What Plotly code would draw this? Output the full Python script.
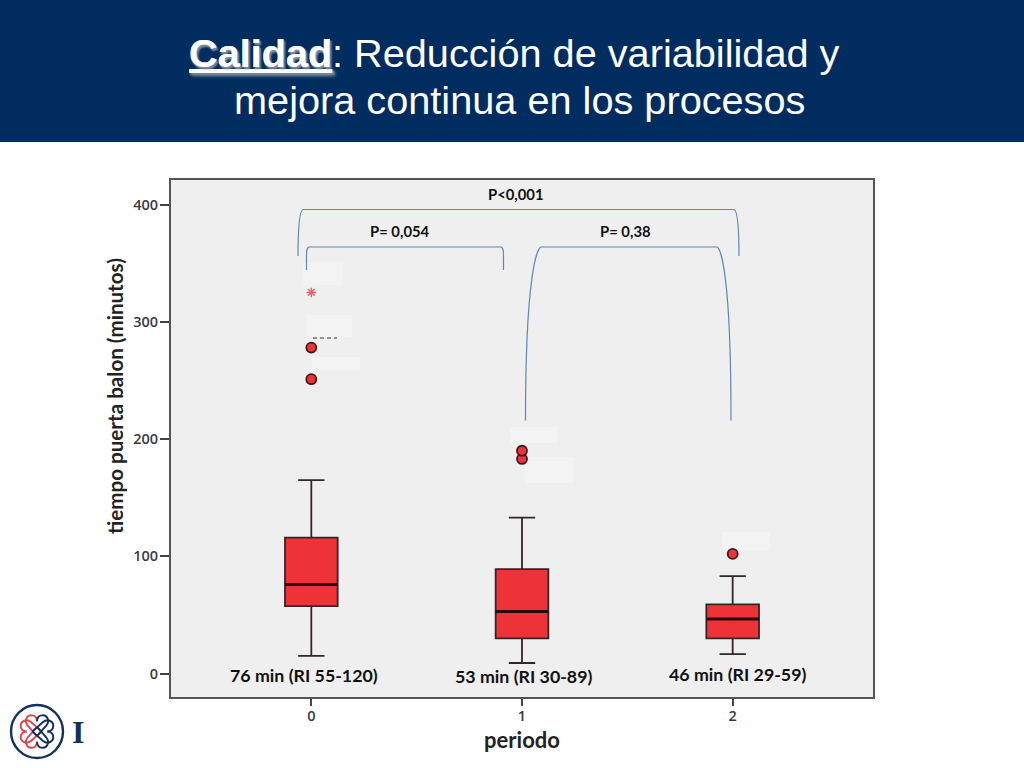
import math
import plotly.graph_objects as go

# Datos del boxplot
periodos = [0, 1, 2]
q1 = [57.5, 30, 30]
medianas = [76, 53, 46.5]
q3 = [116, 89, 59]
bigote_inf = [15, 9, 16.5]
bigote_sup = [165, 133, 83]

atipicos_x = [0, 0, 1, 1, 2]
atipicos_y = [251, 278, 183, 190, 102]
extremos_x = [0]
extremos_y = [325]

ticks_y = [0, 100, 200, 300, 400]
etiquetas_caja = ["76 min (RI 55-120)", "53 min (RI 30-89)", "46 min (RI 29-59)"]
etiquetas_p = ["P<0,001", "P= 0,054", "P= 0,38"]

W, H = 1024, 768
AZUL = "#002C5F"
ROJO = "#EE3338"
LINEA = "#5F86B5"
MARINO = "#12305C"
ROJO_LOGO = "#E2464C"


def px(x):
    return x / W


def py(y):
    return 1 - y / H


def punto(x, y):
    return f"{px(x):.5f},{py(y):.5f}"


def llave(x0, xc0, xc1, x1, ytop, ybot, curva):
    # corchete curvo de comparacion
    h = ybot - ytop
    return (
        f"M{punto(x0, ybot)} C{punto(x0, ytop + h * curva)} {punto(xc0 - 3, ytop + 1)} {punto(xc0, ytop)} "
        f"L{punto(xc1, ytop)} C{punto(xc1 + 3, ytop + 1)} {punto(x1, ytop + h * curva)} {punto(x1, ybot)}"
    )


def medio_corazon(cx, cy, ang, s, lado):
    # mitad de corazon, con la punta pasando el centro del logo
    pts = [(0, 4), (-3, 0.6), (-5, -1.6), (-8, -5), (-12, -10), (-8, -15), (-4, -14), (-2, -14), (0, -12), (0, -9)]
    a = math.radians(ang)
    p = []
    for x, y in pts:
        x = x * lado
        p.append((cx + s * (x * math.cos(a) - y * math.sin(a)),
                  cy + s * (x * math.sin(a) + y * math.cos(a))))
    d = f"M{punto(*p[0])}"
    for i in range(1, len(p) - 1, 3):
        d += f" C{punto(*p[i])} {punto(*p[i + 1])} {punto(*p[i + 2])}"
    return d


def trazo_logo(ang, lado, color):
    return dict(type="path", xref="paper", yref="paper", path=medio_corazon(37, 731.5, ang, 1.15, lado),
                line=dict(color=color, width=1.9))


fig = go.Figure()

fig.add_trace(go.Box(
    x=periodos, q1=q1, median=medianas, q3=q3,
    lowerfence=bigote_inf, upperfence=bigote_sup,
    width=0.25, whiskerwidth=0.5, boxpoints=False,
    fillcolor=ROJO, line=dict(color="#33262A", width=1.8),
))
# mediana mas gruesa
fig.add_trace(go.Scatter(
    x=periodos, y=medianas, mode="markers",
    marker=dict(size=1, color="#2A0A0A"),
    error_x=dict(type="constant", value=0.125, width=0, thickness=3, color="#2A0A0A"),
))
fig.add_trace(go.Scatter(
    x=atipicos_x, y=atipicos_y, mode="markers",
    marker=dict(symbol="circle", size=10, color=ROJO, line=dict(color="#3A1A1E", width=1.8)),
))
fig.add_trace(go.Scatter(
    x=extremos_x, y=extremos_y, mode="markers",
    marker=dict(symbol="asterisk-open", size=8, color="#E8616B", line=dict(color="#E8616B", width=1.4)),
))

formas = [
    dict(type="rect", xref="paper", yref="paper", x0=0, x1=1, y0=py(142), y1=1,
         fillcolor=AZUL, line_width=0, layer="below"),
    # parches claros que tapan las etiquetas originales
    *[dict(type="rect", xref="paper", yref="paper", x0=px(a), x1=px(b), y0=py(d), y1=py(c),
           fillcolor="#F3F3F3", line_width=0, layer="below")
      for a, b, c, d in [(303, 343, 262, 285), (307, 352, 315, 337), (312, 360, 357, 370),
                         (510, 557, 427, 443), (525, 573, 457, 483), (722, 770, 532, 550)]],
    dict(type="path", xref="paper", yref="paper", path=llave(298, 303, 734, 739, 209.5, 256, 0.25),
         line=dict(color=LINEA, width=1.2)),
    dict(type="path", xref="paper", yref="paper", path=llave(306.5, 309, 501, 503.5, 247, 270, 0.25),
         line=dict(color=LINEA, width=1.2)),
    dict(type="path", xref="paper", yref="paper", path=llave(525.5, 541, 717, 731, 247, 420.5, 0.12),
         line=dict(color=LINEA, width=1.2)),
    dict(type="line", xref="paper", yref="paper", x0=px(313), x1=px(337), y0=py(338), y1=py(338),
         line=dict(color="#333333", width=1, dash="4px,3px")),
    # logo
    dict(type="circle", xref="paper", yref="paper", x0=px(11), x1=px(63), y0=py(758), y1=py(705),
         line=dict(color=MARINO, width=2.4)),
    trazo_logo(270, 1, ROJO_LOGO), trazo_logo(270, -1, ROJO_LOGO),
    trazo_logo(0, 1, ROJO_LOGO), trazo_logo(180, -1, ROJO_LOGO),
    trazo_logo(0, -1, MARINO), trazo_logo(180, 1, MARINO),
    trazo_logo(90, 1, MARINO), trazo_logo(90, -1, MARINO),
]

textos = []


def texto(x, y, s, size, color="#111111", family="Lato", anchor="center", angulo=0, **kw):
    textos.append(dict(
        xref="paper", yref="paper", x=px(x), y=py(y), text=s, showarrow=False,
        xanchor=anchor, yanchor="middle", textangle=angulo,
        font=dict(family=family, size=size, color=color, **kw),
    ))


# titulo
texto(187, 53, "<b><u>Calidad</u></b>", 39.7, "#FFFFFF", "Liberation Sans", "left", shadow="1.5px 1.5px 2px #7A8799")
texto(330, 53, ": Reducción de variabilidad y", 39.7, "#FFFFFF", "Liberation Sans", "left")
texto(519, 100, "mejora continua en los procesos", 39.7, "#FFFFFF", "Liberation Sans")

for (x, y), s in zip([(516, 194), (400, 231), (625, 231)], etiquetas_p):
    texto(x, y, f"<b>{s}</b>", 14.8)
for (x, y), s in zip([(304, 675), (523, 676), (737, 674)], etiquetas_caja):
    texto(x, y, f"<b>{s}</b>", 17.8)
texto(78, 732, "<b>I</b>", 32, MARINO, "Liberation Serif")
texto(115, 396, "<b>tiempo puerta balon (minutos)</b>", 20.6, "#222222", angulo=-90)

fig.update_layout(
    width=W, height=H,
    margin=dict(l=0, r=0, t=0, b=0),
    paper_bgcolor="#FFFFFF",
    plot_bgcolor="#EFEFEF",
    showlegend=False,
    shapes=formas,
    annotations=textos,
    font=dict(family="Open Sans", color="#333333"),
    xaxis=dict(
        domain=[px(171), px(873)], range=[-0.666, 2.666],
        tickmode="array", tickvals=periodos, ticks="outside", ticklen=7, tickwidth=2, tickcolor="#444444",
        tickfont=dict(size=14.5, color="#3A3A44", weight=600), ticklabelstandoff=-2,
        showgrid=False, zeroline=False,
        showline=True, mirror=True, linecolor="#555555", linewidth=2,
        title=dict(text="<b>periodo</b>", font=dict(family="Lato", size=22, color="#222222"), standoff=8),
    ),
    yaxis=dict(
        domain=[py(697), py(180)], range=[-20, 420.9],
        tickmode="array", tickvals=ticks_y, ticks="outside", ticklen=9, tickwidth=2, tickcolor="#444444",
        tickfont=dict(size=14.5, color="#3A3A44", weight=600), ticklabelstandoff=-1,
        showgrid=False, zeroline=False,
        showline=True, mirror=True, linecolor="#555555", linewidth=2,
    ),
)

fig.write_html("out.html", config=dict(displayModeBar=False),
               post_script="document.body.style.margin='0';document.body.style.overflow='hidden';")
